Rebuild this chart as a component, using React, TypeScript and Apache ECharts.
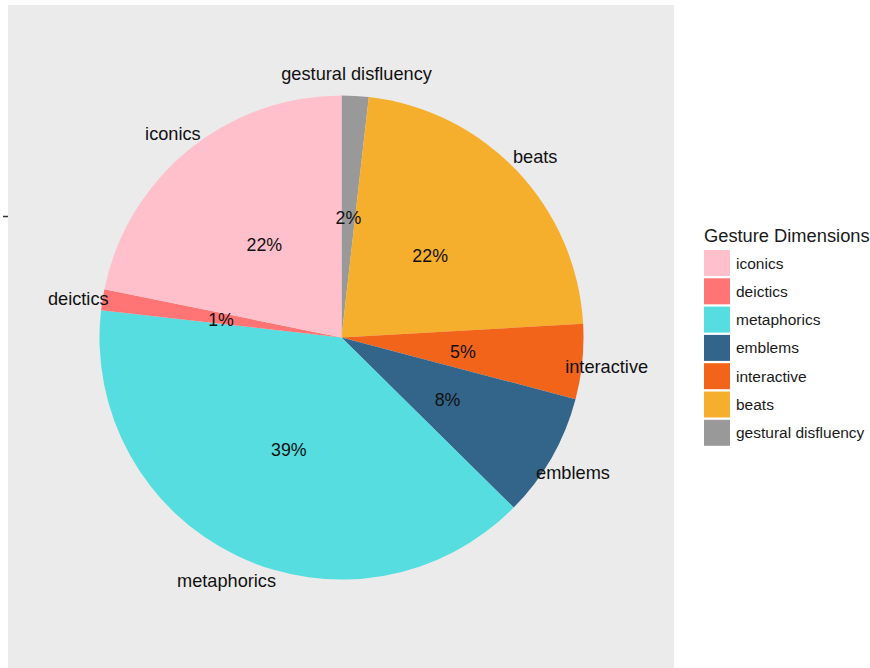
import React, { useEffect, useRef } from "react";
import * as echarts from "echarts";

// slices in clockwise order from 12 o'clock
const categories = ["gestural disfluency", "beats", "interactive", "emblems", "metaphorics", "deictics", "iconics"];
const values = [1.8, 22.3, 5.0, 8.3, 39.4, 1.4, 21.8];
const colors = ["#999999", "#F6AE2D", "#F26419", "#33658A", "#55DDE0", "#FF7575", "#FFC0CB"];
const legendOrder = ["iconics", "deictics", "metaphorics", "emblems", "interactive", "beats", "gestural disfluency"];
const legendTitle = "Gesture Dimensions";

export default function App() {
  const ref = useRef<HTMLDivElement>(null);
  useEffect(() => {
    if (!ref.current) return;
    const chart = echarts.init(ref.current, undefined, { renderer: "svg" });
    const total = values.reduce((a, b) => a + b, 0);
    const data = categories.map((name, i) => ({ name, value: values[i], itemStyle: { color: colors[i] } }));
    const ghost = categories.map((name, i) => ({ name, value: values[i], itemStyle: { color: "rgba(0,0,0,0)" } }));
    const font = "Liberation Sans, Arial, sans-serif";
    const cx = 341.5, cy = 337.5, R = 242;
    const common = {
      type: "pie",
      center: [cx, cy],
      startAngle: 90,
      clockwise: true,
      silent: true,
      labelLine: { show: false },
      emphasis: { disabled: true },
    };
    chart.setOption({
      animation: false,
      backgroundColor: "#ffffff",
      graphic: [
        { type: "rect", z: -10, shape: { x: 8, y: 5, width: 666, height: 663 }, style: { fill: "#EBEBEB" }, silent: true },
        { type: "line", shape: { x1: 3, y1: 216.5, x2: 8, y2: 216.5 }, style: { stroke: "#333333", lineWidth: 1.5 }, silent: true },
        { type: "text", left: 704, top: 226, style: { text: legendTitle, fontSize: 18.3, fontFamily: font, fill: "#1a1a1a" } },
      ],
      legend: {
        orient: "vertical",
        left: 704,
        top: 250,
        padding: 0,
        itemWidth: 26,
        itemHeight: 26,
        itemGap: 2.3,
        icon: "rect",
        data: legendOrder,
        selectedMode: false,
        textStyle: { fontSize: 15.5, fontFamily: font, color: "#1a1a1a", padding: [0, 0, 0, 1] },
      },
      series: [
        {
          ...common,
          radius: [0, R],
          data,
          label: { show: false },
        },
        {
          ...common,
          radius: [0, R - 4],
          data: ghost,
          legendHoverLink: false,
          label: {
            show: true,
            position: "inside",
            rotate: 0,
            offset: [0, 2],
            fontSize: 17.8,
            fontFamily: font,
            color: "#111111",
            formatter: (p: any) => Math.round((p.value / total) * 100) + "%",
          },
        },
        {
          ...common,
          radius: [R, R + 43],
          data: ghost,
          legendHoverLink: false,
          label: {
            show: true,
            position: "inside",
            rotate: 0,
            offset: [0, 3],
            fontSize: 18.2,
            fontFamily: font,
            color: "#111111",
            formatter: "{b}",
          },
        },
      ],
    });
    return () => chart.dispose();
  }, []);
  return <div ref={ref} style={{ position: "absolute", left: 0, top: 0, width: 870, height: 668 }} />;
}
